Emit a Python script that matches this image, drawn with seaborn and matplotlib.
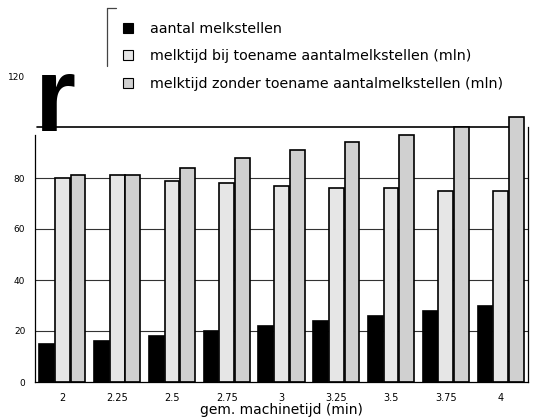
import matplotlib
matplotlib.use("Agg")
import matplotlib.pyplot as plt
import seaborn as sns
import pandas as pd
from matplotlib.patches import Patch
from matplotlib.lines import Line2D

# ---- data ----
categories = ["2", "2.25", "2.5", "2.75", "3", "3.25", "3.5", "3.75", "4"]
aantal_melkstellen = [15, 16, 18, 20, 22, 24, 26, 28, 30]
melktijd_bij = [80, 81, 79, 78, 77, 76, 76, 75, 75]
melktijd_zonder = [81, 81, 84, 88, 91, 94, 97, 100, 104]
series_labels = ["aantal melkstellen",
                 "melktijd bij toename aantalmelkstellen (mln)",
                 "melktijd zonder toename aantalmelkstellen (mln)"]
y_ticks = [0, 20, 40, 60, 80, 120]
x_label = "gem. machinetijd (min)"

df = pd.DataFrame({
    "tijd": categories * 3,
    "waarde": aantal_melkstellen + melktijd_bij + melktijd_zonder,
    "serie": [series_labels[0]] * 9 + [series_labels[1]] * 9 + [series_labels[2]] * 9,
})

sns.set_style("white")
plt.rcParams["font.family"] = ["DejaVu Sans"]
plt.rcParams["text.color"] = "black"
plt.rcParams["xtick.color"] = "black"
plt.rcParams["ytick.color"] = "black"
plt.rcParams["axes.labelcolor"] = "black"

colors = ["#000000", "#e6e6e6", "#d0d0d0"]

fig = plt.figure(figsize=(5.33, 4.20), dpi=100)
ax = fig.add_axes([35 / 533, 1 - 382 / 420, (528 - 35) / 533, (382 - 76) / 420])

sns.barplot(data=df, x="tijd", y="waarde", hue="serie", palette=colors,
            edgecolor="black", linewidth=1.2, width=0.86, gap=0.06,
            legend=False, ax=ax, saturation=1)

ax.set_xlim(-0.5, 8.5)
ax.set_ylim(0, 120)

# grid lines
for v in [20, 40, 60, 80]:
    ax.axhline(v, color="#333333", lw=0.8, zorder=0)
ax.axhline(100, xmin=0.005, xmax=0.965, color="black", lw=1.2, zorder=0)

ax.set_yticks(y_ticks)
ax.set_yticklabels([str(t) for t in y_ticks], fontsize=6.5)
ax.tick_params(axis="y", length=4, width=0.8, direction="out", pad=3)

ax.set_xticks(range(len(categories)))
ax.set_xticklabels(categories, fontsize=7)
ax.tick_params(axis="x", length=0, pad=8)
ax.set_xticks([i + 0.5 for i in range(len(categories))], minor=True)
ax.tick_params(axis="x", which="minor", length=8, width=0.8, direction="inout")

ax.set_xlabel(x_label, fontsize=10, labelpad=0)
ax.set_ylabel("")

ax.spines["top"].set_visible(False)
ax.spines["left"].set_bounds(0, 97)
ax.spines["right"].set_bounds(0, 100)
for s in ["left", "right", "bottom"]:
    ax.spines[s].set_color("black")
    ax.spines[s].set_linewidth(0.9)

# big stray glyph from the scan
fig.text(35 / 533, 1 - 131 / 420, "r", fontsize=76, fontweight="bold",
         family="Liberation Sans", va="baseline", ha="left", color="black")

# legend
handles = [Patch(facecolor=c, edgecolor="black", linewidth=0.8) for c in colors]
leg = fig.legend(handles, series_labels, loc="upper left",
                 bbox_to_anchor=(110 / 533, 1 - 9 / 420), frameon=False,
                 fontsize=10.3, handlelength=0.7, handleheight=0.7,
                 labelspacing=0.95, handletextpad=1.2)

# bracket line at the legend
fig.add_artist(Line2D([107 / 533, 107 / 533], [1 - 8 / 420, 1 - 66 / 420], color="#444444", lw=0.9))
fig.add_artist(Line2D([107 / 533, 116 / 533], [1 - 8 / 420, 1 - 8 / 420], color="#444444", lw=0.9))

fig.savefig("out.png", dpi=100)
